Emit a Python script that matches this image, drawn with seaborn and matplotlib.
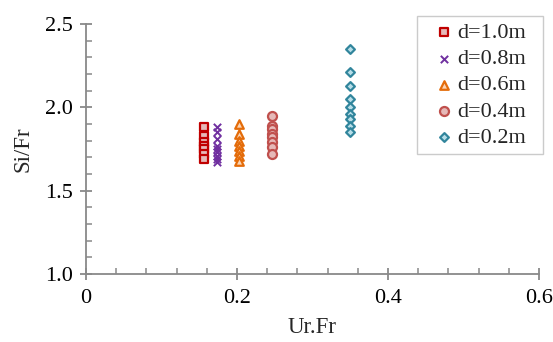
import matplotlib
matplotlib.use("Agg")
import matplotlib.pyplot as plt
from matplotlib.ticker import MultipleLocator, FixedLocator
import seaborn as sns
import pandas as pd

labels = ["d=1.0m", "d=0.8m", "d=0.6m", "d=0.4m", "d=0.2m"]
x_vals = [0.156, 0.174, 0.202, 0.246, 0.350]
y_d10 = [1.88, 1.83, 1.79, 1.77, 1.75, 1.72, 1.69]
y_d08 = [1.88, 1.85, 1.81, 1.77, 1.75, 1.73, 1.71, 1.69, 1.67]
y_d06 = [1.90, 1.84, 1.80, 1.77, 1.74, 1.71, 1.68]
y_d04 = [1.95, 1.89, 1.87, 1.84, 1.82, 1.79, 1.76, 1.72]
y_d02 = [2.35, 2.21, 2.13, 2.05, 2.00, 1.96, 1.93, 1.89, 1.85]
series_y = [y_d10, y_d08, y_d06, y_d04, y_d02]

rows = []
for lab, xv, ys in zip(labels, x_vals, series_y):
    for yv in ys:
        rows.append({"series": lab, "x": xv, "y": yv})
df = pd.DataFrame(rows)

sns.set_style("white")
plt.rcParams['font.family'] = ['Liberation Serif', 'DejaVu Serif']

fig = plt.figure(figsize=(5.53, 3.42), dpi=100)
ax = fig.add_axes([0.1555, 0.1988, 0.8192, 0.731])

styles = {
    "d=1.0m": dict(marker="s", edgecolor="#C00000", facecolor="#E6B9B8", s=36, linewidth=1.6),
    "d=0.8m": dict(marker="x", color="#7030A0", s=28, linewidth=1.4),
    "d=0.6m": dict(marker="^", edgecolor="#E46C0A", facecolor="#FCD5B5", s=38, linewidth=1.6),
    "d=0.4m": dict(marker="o", edgecolor="#C0504D", facecolor="#E6B9B8", s=42, linewidth=1.6),
    "d=0.2m": dict(marker="D", edgecolor="#31859C", facecolor="#B7DEE8", s=20, linewidth=1.6),
}
for lab in labels:
    sub = df[df["series"] == lab]
    sns.scatterplot(data=sub, x="x", y="y", ax=ax, label=lab, zorder=3, **styles[lab])

ax.set_xlim(0, 0.6)
ax.set_ylim(1.0, 2.5)
ax.xaxis.set_major_locator(FixedLocator([0, 0.2, 0.4, 0.6]))
ax.set_xticklabels(["0", "0.2", "0.4", "0.6"])
ax.xaxis.set_minor_locator(MultipleLocator(0.04))
ax.yaxis.set_major_locator(MultipleLocator(0.5))
ax.yaxis.set_minor_locator(MultipleLocator(0.1))
ax.set_yticklabels(["%.1f" % v for v in ax.get_yticks()])

spine_c = "#898989"
for s in ["top", "right"]:
    ax.spines[s].set_visible(False)
for s in ["left", "bottom"]:
    ax.spines[s].set_color(spine_c)
    ax.spines[s].set_linewidth(1.3)
ax.tick_params(which="major", direction="inout", length=9, width=1.3, color=spine_c,
               labelsize=16, labelcolor="black")
ax.tick_params(axis="x", which="major", pad=6)
ax.tick_params(axis="y", which="major", pad=5)
ax.tick_params(which="minor", direction="in", length=4, width=1.1, color=spine_c)
ax.tick_params(axis="both", which="both", left=True, bottom=True)

ax.set_xlabel("Ur.Fr", fontsize=16.5, labelpad=7)
ax.set_ylabel("Si/Fr", fontsize=16.5, labelpad=8)

leg = ax.legend(loc="upper left", bbox_to_anchor=(0.7307, 0.484, 0.278, 0.548),
                mode="expand", fontsize=16, frameon=True,
                fancybox=False, edgecolor="#BFBFBF", handletextpad=-0.35, handlelength=1.85,
                borderpad=0.3, labelspacing=0.25, borderaxespad=0.0)
leg.get_frame().set_linewidth(1.0)

fig.savefig("out.png", dpi=100)
